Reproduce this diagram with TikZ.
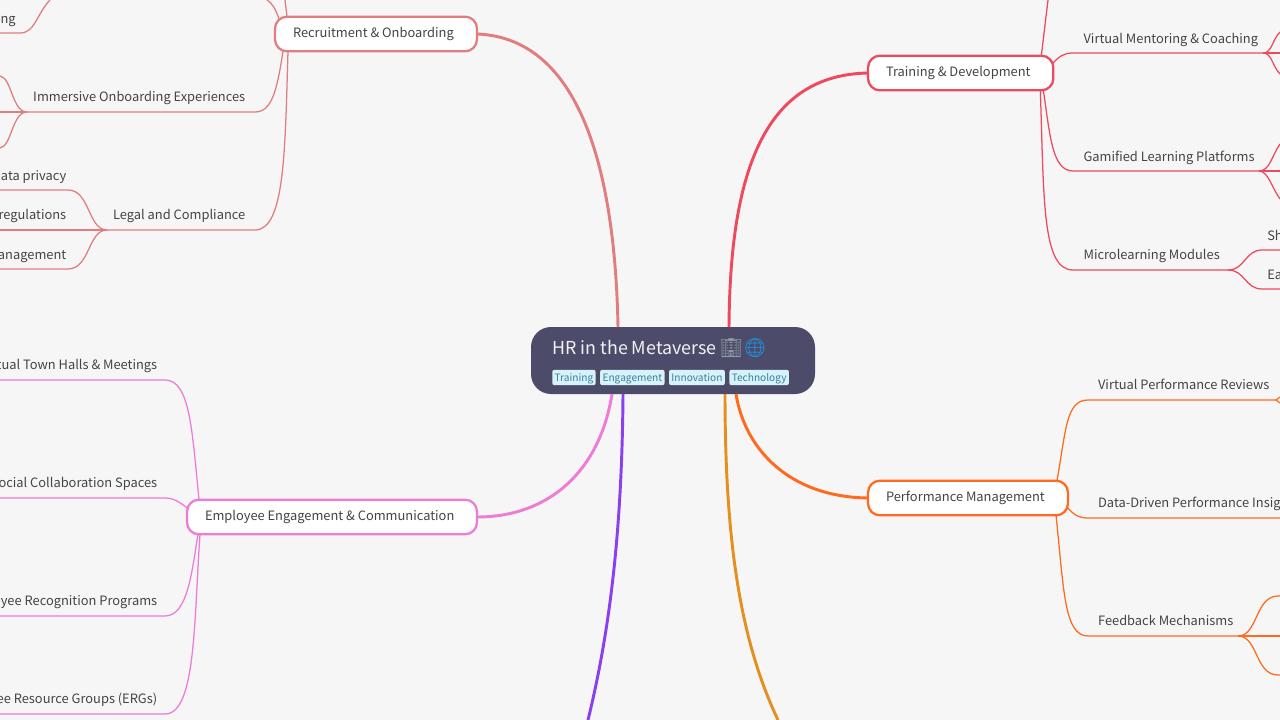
\documentclass[tikz,border=0pt]{standalone}
\usepackage{fontspec}
\setmainfont{Noto Sans CJK SC}
\newfontfamily\emojifont{Noto Emoji}
\usetikzlibrary{positioning,calc}
\definecolor{pagebg}{HTML}{F6F6F6}
\definecolor{hubfill}{HTML}{4C4C6A}
\definecolor{tagfill}{HTML}{D6F2FA}
\definecolor{tagtext}{HTML}{3C8198}
\definecolor{inktext}{HTML}{444444}
\definecolor{recline}{HTML}{E27D7F}
\definecolor{trainline}{HTML}{EE4A5E}
\definecolor{perfline}{HTML}{FF6A1F}
\definecolor{empline}{HTML}{EE7BD6}
\definecolor{purpline}{HTML}{8A3FF0}
\definecolor{amberline}{HTML}{E3901F}
\definecolor{emojigray}{HTML}{8C9AA3}
\definecolor{emojiblue}{HTML}{1E96E6}
\tikzset{
  topic/.style={draw,fill=white,line width=1.7pt,rounded corners=9pt,anchor=west,
    minimum height=26pt,inner xsep=13.5pt,inner ysep=0pt,align=flush left,outer sep=0pt,
    text=inktext,font=\fontsize{9.65}{12}\selectfont},
  leaf/.style={inner sep=0pt,text=inktext,font=\fontsize{9.65}{12}\selectfont},
  tagbox/.style={fill=tagfill,text=tagtext,rounded corners=1.5pt,inner xsep=1.8pt,
    inner ysep=0pt,minimum height=11.5pt,text height=7pt,text depth=.4pt,font=\fontsize{7.6}{10}\selectfont},
  thickline/.style={line width=2.2pt},
  thinline/.style={line width=.95pt}
}
\begin{document}
\begin{tikzpicture}[x=.75pt,y=-.75pt]
  \fill[pagebg] (0,0) rectangle (1280,720);
  \useasboundingbox (0,0) rectangle (1280,720);
  % centre
  \node[fill=hubfill,rounded corners=15pt,minimum width=213pt,minimum height=50.25pt,
    inner sep=0pt,outer sep=0pt] (hub) at (673,360.5) {};
  \node[anchor=base west,inner sep=0pt,text=white!92!hubfill,font=\fontsize{13.4}{18}\selectfont]
    (title) at (552,354) {HR in the Metaverse\hspace{2pt}{\emojifont\fontsize{14}{18}\selectfont\textcolor{emojigray}{🏢}\textcolor{emojiblue}{🌐}}};
  \node[tagbox,anchor=west] (tagtrain) at (552,377.5) {Training};
  \node[tagbox,right=3pt of tagtrain] (tagengage) {Engagement};
  \node[tagbox,right=3pt of tagengage] (taginnov) {Innovation};
  \node[tagbox,right=3pt of taginnov] (tagtech) {Technology};
  % topics
  \node[topic,draw=recline,text width=124.5pt] (rec) at (275,34) {Recruitment \& Onboarding};
  \node[topic,draw=trainline,text width=112pt] (train) at (868,73) {Training \& Development};
  \node[topic,draw=perfline,text width=123pt] (perf) at (868,498) {Performance Management};
  \node[topic,draw=empline,text width=190.5pt] (emp) at (187,517) {Employee Engagement \& Communication};
  % ends off the page
  \coordinate (purpend) at (588,720);
  \coordinate (amberend) at (778,720);
  % thick lines
  \draw[thickline,recline] ($(hub.north)+(-55,0)$) .. controls (615,170) and (580,38) .. (rec.east);
  \draw[thickline,trainline] ($(hub.north)+(56,0)$) .. controls (730,170) and (765,75) .. (train.west);
  \draw[thickline,perfline] ($(hub.south)+(63,0)$) .. controls (745,450) and (790,497) .. (perf.west);
  \draw[thickline,empline] ($(hub.south)+(-61,0)$) .. controls (600,470) and (550,517) .. (emp.east);
  \draw[thickline,purpline] ($(hub.south)+(-50,0)$) .. controls (622,530) and (610,630) .. (purpend);
  \draw[thickline,amberline] ($(hub.south)+(52,0)$) .. controls (725,540) and (740,640) .. (amberend);
  % recruitment
  \node[leaf,anchor=base east] (immersive) at (245.5,101.6) {Immersive Onboarding Experiences};
  \node[leaf,anchor=base east] (legal) at (245.5,219.3) {Legal and Compliance};
  \node[leaf,anchor=base east] (privacy) at (66.5,180.6) {Data privacy};
  \node[leaf,anchor=base east] (regs) at (66.5,219.3) {regulations};
  \node[leaf,anchor=base east] (manage) at (66.5,259.3) {management};
  \node[leaf,anchor=base east] (hiring) at (16,23.6) {ng};
  \coordinate (immersivej) at (27,112);
  \coordinate (legalj) at (107,230);
  \begin{scope}[thinline,recline]
    \draw (rec.north) ++(-89,0) -- (285,0);
    \draw (rec.north west) ++(4,2) .. controls (275,8) and (272,3) .. (267,0);
    \draw (0,33) -- (20,33) .. controls (35,33) and (36,15) .. (50,0);
    \draw ($(rec.south west)+(8,0)$) .. controls (277,90) and (272,112) .. (255,112) -- (immersivej);
    \draw ($(rec.south west)+(13,0)$) .. controls (285,150) and (285,230) .. (255,230) -- (legalj);
    \draw (immersivej) .. controls (12,112) and (12,78) .. (0,76);
    \draw (immersivej) .. controls (18,112) and (9,112) .. (0,112);
    \draw (immersivej) .. controls (12,112) and (12,146) .. (0,148);
    \draw (legalj) .. controls (88,230) and (90,190) .. (68,190) -- (0,190);
    \draw (legalj) .. controls (70,230) and (35,230) .. (0,230);
    \draw (legalj) .. controls (88,230) and (90,269) .. (68,269) -- (0,269);
  \end{scope}
  % training
  \node[leaf,anchor=base west] (mentor) at (1083.3,43.6) {Virtual Mentoring \& Coaching};
  \node[leaf,anchor=base west] (gamified) at (1083.3,161.6) {Gamified Learning Platforms};
  \node[leaf,anchor=base west] (micro) at (1083.3,259.3) {Microlearning Modules};
  \node[leaf,anchor=base west] (shortb) at (1267,240.3) {Sh};
  \node[leaf,anchor=base west] (easyb) at (1267,279.3) {Ea};
  \coordinate (mentorj) at (1263,53);
  \coordinate (gamifiedj) at (1259,171);
  \coordinate (microj) at (1228,270);
  \begin{scope}[thinline,trainline]
    \draw ($(train.north east)+(-12,0)$) -- (1048,0);
    \draw ($(train.east)+(-1,-9)$) .. controls (1058,57) and (1064,53) .. (1072,53) -- (mentorj);
    \draw ($(train.south east)+(-10,0)$) .. controls (1050,135) and (1052,171) .. (1073,171) -- (gamifiedj);
    \draw ($(train.south east)+(-13,0)$) .. controls (1044,200) and (1042,270) .. (1073,270) -- (microj);
    \draw (mentorj) .. controls (1272,53) and (1272,40) .. (1280,32);
    \draw (mentorj) .. controls (1269,53) and (1274,53) .. (1280,53);
    \draw (mentorj) .. controls (1272,53) and (1272,66) .. (1280,74);
    \draw (gamifiedj) .. controls (1270,171) and (1272,155) .. (1280,144);
    \draw (gamifiedj) .. controls (1266,171) and (1273,171) .. (1280,171);
    \draw (gamifiedj) .. controls (1268,171) and (1272,188) .. (1280,199);
    \draw (microj) .. controls (1245,270) and (1245,250) .. (1262,250) -- (1280,250);
    \draw (microj) .. controls (1245,270) and (1245,289) .. (1262,289) -- (1280,289);
  \end{scope}
  % performance
  \node[leaf,anchor=base west] (reviews) at (1097.8,389.3) {Virtual Performance Reviews};
  \node[leaf,anchor=base west] (insights) at (1097.8,507.3) {Data-Driven Performance Insights};
  \node[leaf,anchor=base west] (feedback) at (1097.8,625.3) {Feedback Mechanisms};
  \coordinate (reviewsj) at (1276,400);
  \coordinate (feedbackj) at (1238,636);
  \begin{scope}[thinline,perfline]
    \draw ($(perf.north east)+(-11,0)$) .. controls (1066,430) and (1066,400) .. (1088,400) -- (reviewsj);
    \draw ($(perf.east)+(-1,9)$) .. controls (1073,514) and (1078,518) .. (1088,518) -- (1280,518);
    \draw ($(perf.south east)+(-12,0)$) .. controls (1064,590) and (1064,636) .. (1088,636) -- (feedbackj);
    \draw (reviewsj) -- (1280,397);
    \draw (reviewsj) -- (1280,403);
    \draw (feedbackj) .. controls (1258,636) and (1255,596) .. (1278,596) -- (1280,596);
    \draw (feedbackj) .. controls (1252,636) and (1266,636) .. (1280,636);
    \draw (feedbackj) .. controls (1258,636) and (1255,675) .. (1278,675) -- (1280,675);
  \end{scope}
  % engagement
  \node[leaf,anchor=base east] (townhall) at (157.5,369.3) {Virtual Town Halls \& Meetings};
  \node[leaf,anchor=base east] (social) at (157.5,487.3) {Social Collaboration Spaces};
  \node[leaf,anchor=base east] (recog) at (157.5,605.3) {Employee Recognition Programs};
  \node[leaf,anchor=base east] (ergs) at (157.5,703.3) {Employee Resource Groups (ERGs)};
  \begin{scope}[thinline,empline]
    \draw ($(emp.north west)+(12,0)$) .. controls (192,430) and (190,380) .. (165,380) -- (0,380);
    \draw ($(emp.west)+(2,-8)$) .. controls (180,503) and (175,498) .. (165,498) -- (0,498);
    \draw ($(emp.south west)+(11,0)$) .. controls (192,570) and (188,616) .. (165,616) -- (0,616);
    \draw ($(emp.south west)+(13,0)$) .. controls (194,620) and (196,714) .. (165,714) -- (0,714);
  \end{scope}
\end{tikzpicture}
\end{document}
